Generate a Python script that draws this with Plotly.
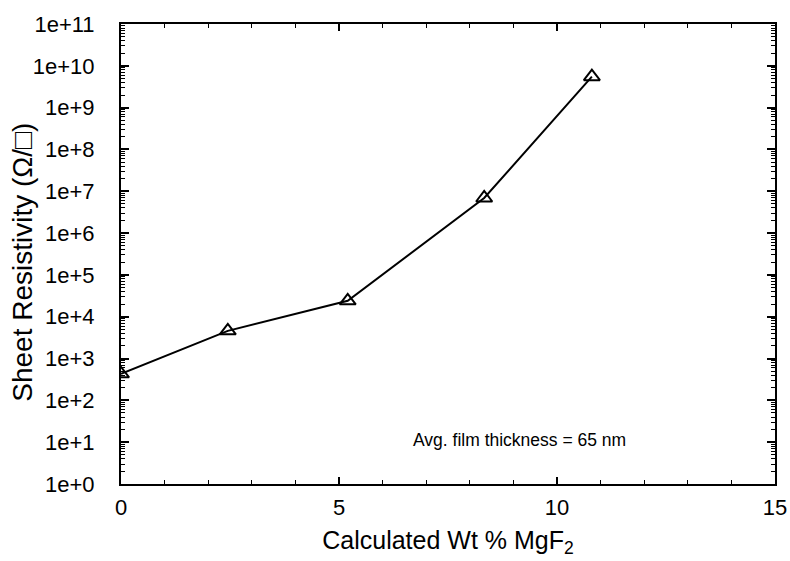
import plotly.graph_objects as go

# Data
wt_pct_mgf2 = [0.0, 2.45, 5.2, 8.33, 10.8]
sheet_resistivity = [4.3e2, 4.6e3, 2.4e4, 6.9e6, 5.5e9]

y_tick_vals = [10 ** d for d in range(0, 12)]
y_tick_text = ["1e+%d" % d for d in range(0, 12)]
y_minor_vals = [k * 10 ** d for d in range(0, 11) for k in range(2, 10)]
x_tick_vals = [0, 5, 10, 15]
x_minor_vals = [1, 2, 3, 4, 6, 7, 8, 9, 11, 12, 13, 14]

annotation_text = "Avg. film thickness = 65 nm"
y_title_text = "Sheet Resistivity (Ω/□)"
x_title_text = "Calculated Wt % MgF<sub>2</sub>"

FONT = "Liberation Sans, Arial, sans-serif"

fig = go.Figure()
fig.add_trace(go.Scatter(
    x=wt_pct_mgf2, y=sheet_resistivity,
    mode="lines+markers",
    line=dict(color="black", width=2),
    marker=dict(symbol="triangle-up-open", size=14, color="black",
                line=dict(width=2, color="black")),
    showlegend=False,
))

fig.add_annotation(
    x=9.15, y=1.05, xref="x", yref="y",
    text=annotation_text, showarrow=False,
    font=dict(family=FONT, size=17.5, color="black"),
)

# y-axis title placed as a rotated annotation for exact positioning
fig.add_annotation(
    x=-0.15, y=0.483, xref="paper", yref="paper",
    xanchor="center", yanchor="middle",
    text=y_title_text, textangle=-90, showarrow=False,
    font=dict(family=FONT, size=28, color="black"),
)

fig.update_layout(
    width=790, height=561,
    margin=dict(l=121, r=15, t=24, b=77),
    paper_bgcolor="white", plot_bgcolor="white",
    font=dict(family=FONT, color="black"),
    xaxis=dict(
        range=[0, 15], automargin=False,
        tickmode="array", tickvals=x_tick_vals,
        ticks="inside", ticklen=7, tickwidth=1.5, tickcolor="black",
        minor=dict(tickmode="array", tickvals=x_minor_vals, ticks="inside",
                   ticklen=4, tickwidth=1.2, tickcolor="black"),
        showline=True, linecolor="black", linewidth=2, mirror="allticks",
        showgrid=False, zeroline=False,
        tickfont=dict(family=FONT, size=22, color="black"),
        ticklabelstandoff=3,
        title=dict(text=x_title_text,
                   font=dict(family=FONT, size=25, color="black"), standoff=12),
    ),
    yaxis=dict(
        type="log", range=[0, 11], automargin=False,
        tickmode="array", tickvals=y_tick_vals, ticktext=y_tick_text,
        ticks="inside", ticklen=8, tickwidth=1.8, tickcolor="black",
        minor=dict(tickmode="array", tickvals=y_minor_vals, ticks="inside",
                   ticklen=4, tickwidth=1.2, tickcolor="black"),
        showline=True, linecolor="black", linewidth=2, mirror="allticks",
        showgrid=False, zeroline=False,
        tickfont=dict(family=FONT, size=22, color="black"),
        ticklabelstandoff=20,
    ),
)

fig.write_html("out.html")
